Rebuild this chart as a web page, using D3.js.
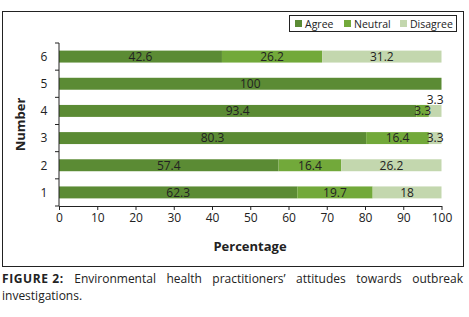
<!DOCTYPE html>
<html><head><meta charset="utf-8">
<script src="https://cdn.jsdelivr.net/npm/d3@7"></script>
<style>
body{margin:0;background:#fff;}
svg text{font-family:"Open Sans","Liberation Sans",sans-serif;}
</style></head>
<body>
<svg id="c" width="469" height="317"></svg>
<script>
const categories = ["1","2","3","4","5","6"];
const seriesNames = ["Agree","Neutral","Disagree"];
const agree    = [62.3, 57.4, 80.3, 93.4, 100, 42.6];
const neutral  = [19.7, 16.4, 16.4, 3.3, 0, 26.2];
const disagree = [18, 26.2, 3.3, 3.3, 0, 31.2];
const xTicks = [0,10,20,30,40,50,60,70,80,90,100];
const colors = ["#5b8b34","#72a93a","#c3d7ae"];

const svg = d3.select("#c");
// outer frame
svg.append("rect").attr("x",2.5).attr("y",11.5).attr("width",461).attr("height",255)
  .attr("fill","none").attr("stroke","#222").attr("stroke-width",1);

const x = d3.scaleLinear().domain([0,100]).range([59,441.5]);
const y = d3.scaleBand().domain(categories.slice().reverse()).range([43,206]).paddingInner(0.56).paddingOuter(0.28);
const yb = d3.scaleBand().domain(categories.slice().reverse()).range([43,206]);

const rows = categories.map((c,i)=>({cat:c, vals:[agree[i],neutral[i],disagree[i]]}));
const segs = [];
rows.forEach(r=>{
  let acc=0; let lastLabelX=-999;
  r.vals.forEach((v,k)=>{
    if(v>0){
      const s={cat:r.cat,k:k,x0:acc,x1:acc+v,v:v};
      const cx=x(acc+v/2);
      s.shift = (cx-lastLabelX<20)? -11 : 0;
      lastLabelX=cx;
      segs.push(s);
    }
    acc+=v;
  });
});

svg.append("g").selectAll("rect").data(segs).join("rect")
  .attr("x",d=>x(d.x0)).attr("width",d=>x(d.x1)-x(d.x0))
  .attr("y",d=>y(d.cat)).attr("height",y.bandwidth())
  .attr("fill",d=>colors[d.k]);

svg.append("g").selectAll("text").data(segs).join("text")
  .attr("x",d=>x((d.x0+d.x1)/2)).attr("y",d=>y(d.cat)+y.bandwidth()/2+d.shift)
  .attr("dy","0.36em").attr("text-anchor","middle")
  .attr("font-size",12).attr("fill","#222").text(d=>d.v);

// x axis
const xa = svg.append("g").attr("transform","translate(0,206)")
  .call(d3.axisBottom(x).tickValues(xTicks).tickSize(4).tickPadding(3).tickSizeOuter(0));
xa.select(".domain").attr("stroke","#222");
xa.selectAll("line").attr("stroke","#222");
xa.selectAll("text").attr("font-size",12).attr("fill","#222").attr("font-family","'Open Sans','Liberation Sans',sans-serif");

// y axis
const ya = svg.append("g").attr("transform","translate(59,0)");
ya.append("line").attr("x1",0).attr("x2",0).attr("y1",43).attr("y2",206).attr("stroke","#222");
const bounds = categories.map(c=>yb(c)).concat([206]);
ya.selectAll(".tk").data(bounds).join("line").attr("class","tk")
  .attr("x1",-4).attr("x2",0).attr("y1",d=>d).attr("y2",d=>d).attr("stroke","#222");
ya.selectAll("text").data(categories).join("text")
  .attr("x",-15).attr("y",d=>y(d)+y.bandwidth()/2).attr("dy","0.36em")
  .attr("text-anchor","middle").attr("font-size",12).attr("fill","#222").text(d=>d);

// axis titles
svg.append("text").attr("transform","translate(25,124.5) rotate(-90)")
  .attr("text-anchor","middle").attr("font-size",13).attr("font-weight","bold").attr("fill","#222").text("Number");
svg.append("text").attr("x",250).attr("y",251).attr("text-anchor","middle")
  .attr("font-size",13).attr("font-weight","bold").attr("fill","#222").text("Percentage");

// legend
const lg = svg.append("g");
lg.append("rect").attr("x",289.5).attr("y",15.5).attr("width",167).attr("height",16)
  .attr("fill","#fff").attr("stroke","#222");
const lx=[295,344,400];
seriesNames.forEach((n,k)=>{
  lg.append("rect").attr("x",lx[k]).attr("y",20).attr("width",7).attr("height",7).attr("fill",colors[k]);
  lg.append("text").attr("x",lx[k]+10).attr("y",24).attr("dy","0.36em").attr("font-size",10.5).attr("fill","#222").text(n);
});

// caption: first line word-justified across 2..463
const capWords = [
  {t:"FIGURE 2:", b:true},
  {t:"Environmental"},{t:"health"},{t:"practitioners\u2019"},{t:"attitudes"},{t:"towards"},{t:"outbreak"}
];
const capG = svg.append("g");
const nodes = capWords.map(w=>capG.append("text").attr("y",283).attr("font-size",12).attr("fill","#222")
  .attr("font-weight",w.b?"bold":null).attr("letter-spacing",w.b?0.6:null).text(w.t));
const widths = nodes.map(n=>n.node().getComputedTextLength());
const total = d3.sum(widths);
const gap = (461 - total)/(nodes.length-1);
let cx = 2;
nodes.forEach((n,i)=>{ n.attr("x",cx); cx += widths[i]+gap; });
svg.append("text").attr("x",2).attr("y",300).attr("font-size",12).attr("fill","#222").text("investigations.");
</script>
</body></html>
